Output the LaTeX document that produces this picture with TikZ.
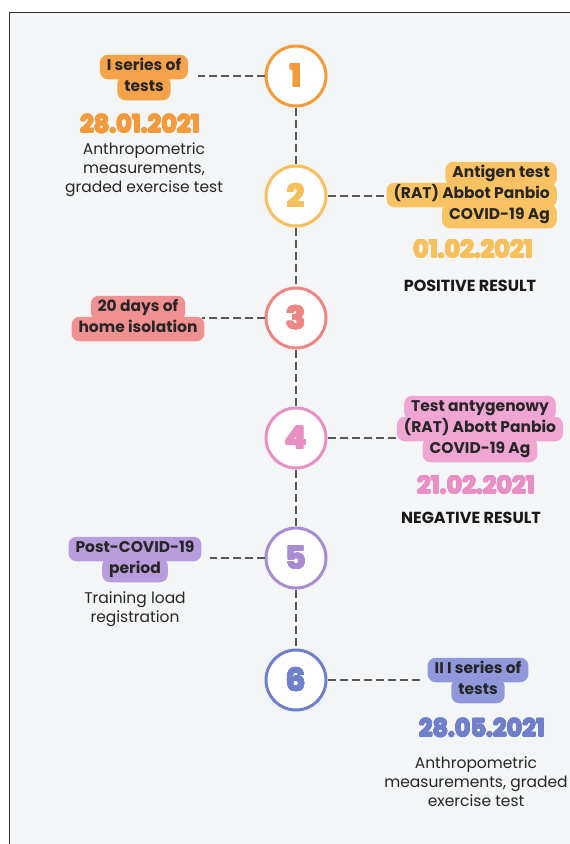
\documentclass[tikz,border=0pt]{standalone}
\usepackage{fontspec}
\usepackage{contour}
\setmainfont{Poppins}
\newfontfamily\datefont{Poppins Bold}
\contournumber{16}
\definecolor{bg}{HTML}{F3F5F6}
\definecolor{c1}{HTML}{F49A3A}\definecolor{t1}{HTML}{F6A24B}
\definecolor{c2}{HTML}{F8C05A}\definecolor{t2}{HTML}{F9C262}
\definecolor{c3}{HTML}{EF8585}\definecolor{t3}{HTML}{F19090}
\definecolor{c4}{HTML}{EA8FC4}\definecolor{t4}{HTML}{F0A6D2}
\definecolor{c5}{HTML}{A88BD1}\definecolor{t5}{HTML}{B79DDB}
\definecolor{c6}{HTML}{6F7FC9}\definecolor{t6}{HTML}{8E98DA}
\begin{document}
\begin{tikzpicture}[x=1pt,y=-1pt,
  stage/.style={circle,draw=#1,line width=3pt,fill=white,minimum size=60pt,inner sep=0pt,text=#1,font=\datefont\fontsize{31}{31}\selectfont\contourlength{0.7pt}},
  tag/.style={fill=#1,rounded corners=8pt,inner xsep=7pt,inner ysep=5pt,text height=11pt,text depth=3.5pt,text=black!85,font=\bfseries\fontsize{15.5}{17}\selectfont},
  date/.style={text=#1,font=\datefont\fontsize{24}{24}\selectfont\contourlength{0.55pt}},
  note/.style={align=center,text=black!85,font=\fontsize{15.5}{19}\selectfont},
  result/.style={text=black!90,font=\bfseries\fontsize{16}{16}\selectfont},
  link/.style={draw=black!65,line width=1.8pt,dash pattern=on 8pt off 4pt}]
 \clip (0,0) rectangle (570,844);
 \fill[bg] (9,12) rectangle (580,850);
 \draw[black!80,line width=1pt] (580,12) -- (9,12) -- (9,850);
 \node[stage=c1] (n1) at (296,76) {\contour{c1}{1}};
 \node[stage=c2] (n2) at (296,196) {\contour{c2}{2}};
 \node[stage=c3] (n3) at (296,318) {\contour{c3}{3}};
 \node[stage=c4] (n4) at (296,438) {\contour{c4}{4}};
 \node[stage=c5] (n5) at (296,558) {\contour{c5}{5}};
 \node[stage=c6] (n6) at (296,680) {\contour{c6}{6}};
 \foreach \a/\b in {1/2,2/3,3/4,4/5,5/6}
   \draw[link] (n\a) -- (n\b);
 \coordinate (e1) at (198,76);
 \coordinate (e2) at (390,196);
 \coordinate (e3) at (202,318);
 \coordinate (e4) at (398,438);
 \coordinate (e5) at (210,558);
 \coordinate (e6) at (420,680);
 \foreach \i in {1,...,6}
   \draw[link] (n\i) -- (e\i);
 \node[tag=t1] (s1a) at (144,67) {I series of};
 \node[tag=t1] (s1b) at (144,88) {tests};
 \node[date=c1] (d1) at (140,124) {\contour{c1}{28.01.2021}};
 \node[note] (m1) at (144,170) {Anthropometric\\measurements,\\graded exercise test};
 \node[tag=t2,anchor=east] (s2a) at (557,174) {Antigen test};
 \node[tag=t2,anchor=east] (s2b) at (557,195) {(RAT) Abbot Panbio};
 \node[tag=t2,anchor=east] (s2c) at (557,216) {COVID-19 Ag};
 \node[date=c2] (d2) at (473,249) {\contour{c2}{01.02.2021}};
 \node[result] (r2) at (470,286) {POSITIVE RESULT};
 \node[tag=t3] (s3a) at (138,308) {20 days of};
 \node[tag=t3] (s3b) at (138,329) {home isolation};
 \node[tag=t4] (s4a) at (480,408) {Test antygenowy};
 \node[tag=t4] (s4b) at (480,429) {(RAT) Abott Panbio};
 \node[tag=t4] (s4c) at (480,450) {COVID-19 Ag};
 \node[date=c4] (d4) at (476,485) {\contour{c4}{21.02.2021}};
 \node[result] (r4) at (471,518) {NEGATIVE RESULT};
 \node[tag=t5] (s5a) at (135,549) {Post-COVID-19};
 \node[tag=t5] (s5b) at (135,570) {period};
 \node[note] (m5) at (135,609) {Training load\\registration};
 \node[tag=t6] (s6a) at (478,670) {II I series of};
 \node[tag=t6] (s6b) at (478,691) {tests};
 \node[date=c6] (d6) at (482,728) {\contour{c6}{28.05.2021}};
 \node[note] (m6) at (476,782) {Anthropometric\\measurements, graded\\exercise test};
\end{tikzpicture}
\end{document}
